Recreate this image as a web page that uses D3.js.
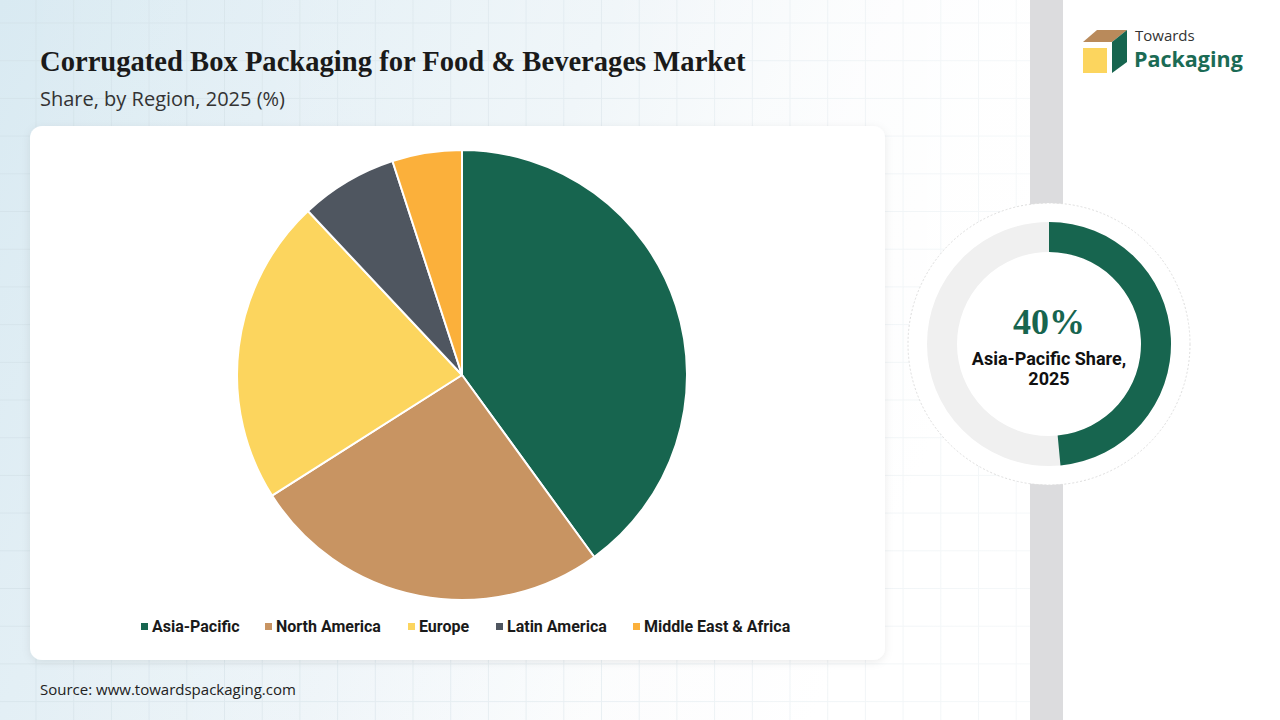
<!DOCTYPE html>
<html><head><meta charset="utf-8">
<script src="https://cdn.jsdelivr.net/npm/d3@7"></script>
<style>html,body{margin:0;padding:0;width:1280px;height:720px;overflow:hidden;background:#fff}</style>
</head><body>
<svg id="c" width="1280" height="720"></svg>
<script>
const regions = ["Asia-Pacific","North America","Europe","Latin America","Middle East & Africa"];
const shares = [40, 26, 22, 7, 5];
const colors = ["#17654f","#c89462","#fcd55e","#4f5660","#fbb03b"];
const highlightLabel = ["40%", "Asia-Pacific Share,", "2025"];
const gaugeValue = [48.5];
const titleText = "Corrugated Box Packaging for Food & Beverages Market";
const subtitleText = "Share, by Region, 2025 (%)";
const sourceText = "Source: www.towardspackaging.com";

const svg = d3.select("#c");
const defs = svg.append("defs");
const bg = defs.append("linearGradient").attr("id","bg").attr("x1","0").attr("y1","0").attr("x2","1").attr("y2","0.3");
bg.append("stop").attr("offset","0").attr("stop-color","#d9eaf2");
bg.append("stop").attr("offset","0.55").attr("stop-color","#edf4f8");
bg.append("stop").attr("offset","0.8").attr("stop-color","#fbfcfd");
bg.append("stop").attr("offset","1").attr("stop-color","#ffffff");
const sh = defs.append("filter").attr("id","sh").attr("x","-5%").attr("y","-5%").attr("width","110%").attr("height","115%");
sh.append("feDropShadow").attr("dx",0).attr("dy",2).attr("stdDeviation",4).attr("flood-color","#000").attr("flood-opacity",0.08);

svg.append("rect").attr("width",1030).attr("height",720).attr("fill","url(#bg)");
const grid = svg.append("g").attr("stroke","#cfdde4").attr("stroke-width",1).attr("opacity",0.5);
for (let x = 36; x < 1030; x += 37.7) grid.append("line").attr("x1",x).attr("x2",x).attr("y1",0).attr("y2",720);
for (let y = 23; y < 720; y += 37.7) grid.append("line").attr("x1",0).attr("x2",1030).attr("y1",y).attr("y2",y);
const fade = defs.append("linearGradient").attr("id","fade").attr("x1","0").attr("x2","1");
fade.append("stop").attr("offset","0").attr("stop-color","#fff").attr("stop-opacity",0);
fade.append("stop").attr("offset","0.6").attr("stop-color","#fff").attr("stop-opacity",0.2);
fade.append("stop").attr("offset","1").attr("stop-color","#fff").attr("stop-opacity",0.6);
svg.append("rect").attr("width",1030).attr("height",720).attr("fill","url(#fade)");

svg.append("rect").attr("x",1030).attr("y",0).attr("width",33).attr("height",720).attr("fill","#dcdcde");
svg.append("rect").attr("x",1063).attr("y",0).attr("width",217).attr("height",720).attr("fill","#ffffff");

svg.append("text").attr("x",40).attr("y",71).text(titleText)
  .attr("font-family","'Liberation Serif','DejaVu Serif',serif").attr("font-weight","bold")
  .attr("font-size",28.6).attr("fill","#1a1a1a");
svg.append("text").attr("x",40).attr("y",106).text(subtitleText)
  .attr("font-family","'Open Sans','Liberation Sans',sans-serif")
  .attr("font-size",20).attr("fill","#333");

svg.append("rect").attr("x",30).attr("y",126).attr("width",855).attr("height",534).attr("rx",12)
  .attr("fill","#fff").attr("filter","url(#sh)");

const cx = 462, cy = 375, R = 225;
const pie = d3.pie().sort(null).value(d => d)(shares);
const arc = d3.arc().innerRadius(0).outerRadius(R);
svg.append("g").attr("transform",`translate(${cx},${cy})`)
  .selectAll("path").data(pie).join("path")
  .attr("d",arc).attr("fill",(d,i)=>colors[i]).attr("stroke","#fff").attr("stroke-width",2).attr("stroke-linejoin","round");

const legX = [141, 265, 408, 496, 633];
const lg = svg.append("g").attr("font-family","'Roboto','Liberation Sans',sans-serif").attr("font-weight","bold").attr("font-size",16).attr("fill","#1a1a1a");
regions.forEach((r,i)=>{
  lg.append("rect").attr("x",legX[i]).attr("y",623).attr("width",7).attr("height",7).attr("fill",colors[i]);
  lg.append("text").attr("x",legX[i]+11).attr("y",632).text(r);
});

svg.append("text").attr("x",40).attr("y",695).text(sourceText)
  .attr("font-family","'Open Sans','Liberation Sans',sans-serif").attr("font-size",15).attr("fill","#222");

const gx = 1049, gy = 344;
const gg = svg.append("g").attr("transform",`translate(${gx},${gy})`);
gg.append("circle").attr("r",141).attr("fill","#fff").attr("stroke","#dedede").attr("stroke-width",1).attr("stroke-dasharray","2,2");
gg.append("circle").attr("r",107).attr("fill","none").attr("stroke","#f0f0f0").attr("stroke-width",30);
const ga = d3.arc().innerRadius(92).outerRadius(122).startAngle(0).endAngle(2*Math.PI*gaugeValue[0]/100);
gg.append("path").attr("d",ga()).attr("fill",colors[0]);
gg.append("text").attr("y",-10).attr("text-anchor","middle").text(highlightLabel[0])
  .attr("font-family","'Liberation Serif','DejaVu Serif',serif").attr("font-weight","bold").attr("font-size",36).attr("fill","#17654f");
gg.append("text").attr("y",21).attr("text-anchor","middle").text(highlightLabel[1])
  .attr("font-family","'Roboto','Liberation Sans',sans-serif").attr("font-weight","bold").attr("font-size",18).attr("fill","#111");
gg.append("text").attr("y",41).attr("text-anchor","middle").text(highlightLabel[2])
  .attr("font-family","'Roboto','Liberation Sans',sans-serif").attr("font-weight","bold").attr("font-size",18).attr("fill","#111");

const logo = svg.append("g");
logo.append("polygon").attr("points","1083,42 1097,30 1127,30 1112,42").attr("fill","#b98a5b");
logo.append("polygon").attr("points","1112,42 1127,30 1127,62 1112,73").attr("fill","#17654f");
logo.append("rect").attr("x",1083).attr("y",48).attr("width",24).attr("height",25).attr("fill","#fcd55e");
logo.append("text").attr("x",1135).attr("y",41).text("Towards")
  .attr("font-family","'Open Sans','Liberation Sans',sans-serif").attr("font-size",15).attr("fill","#333");
logo.append("text").attr("x",1134).attr("y",67).text("Packaging")
  .attr("font-family","'Open Sans','Liberation Sans',sans-serif").attr("font-weight","bold").attr("font-size",21.5).attr("fill","#1b6b55");
</script>
</body></html>
